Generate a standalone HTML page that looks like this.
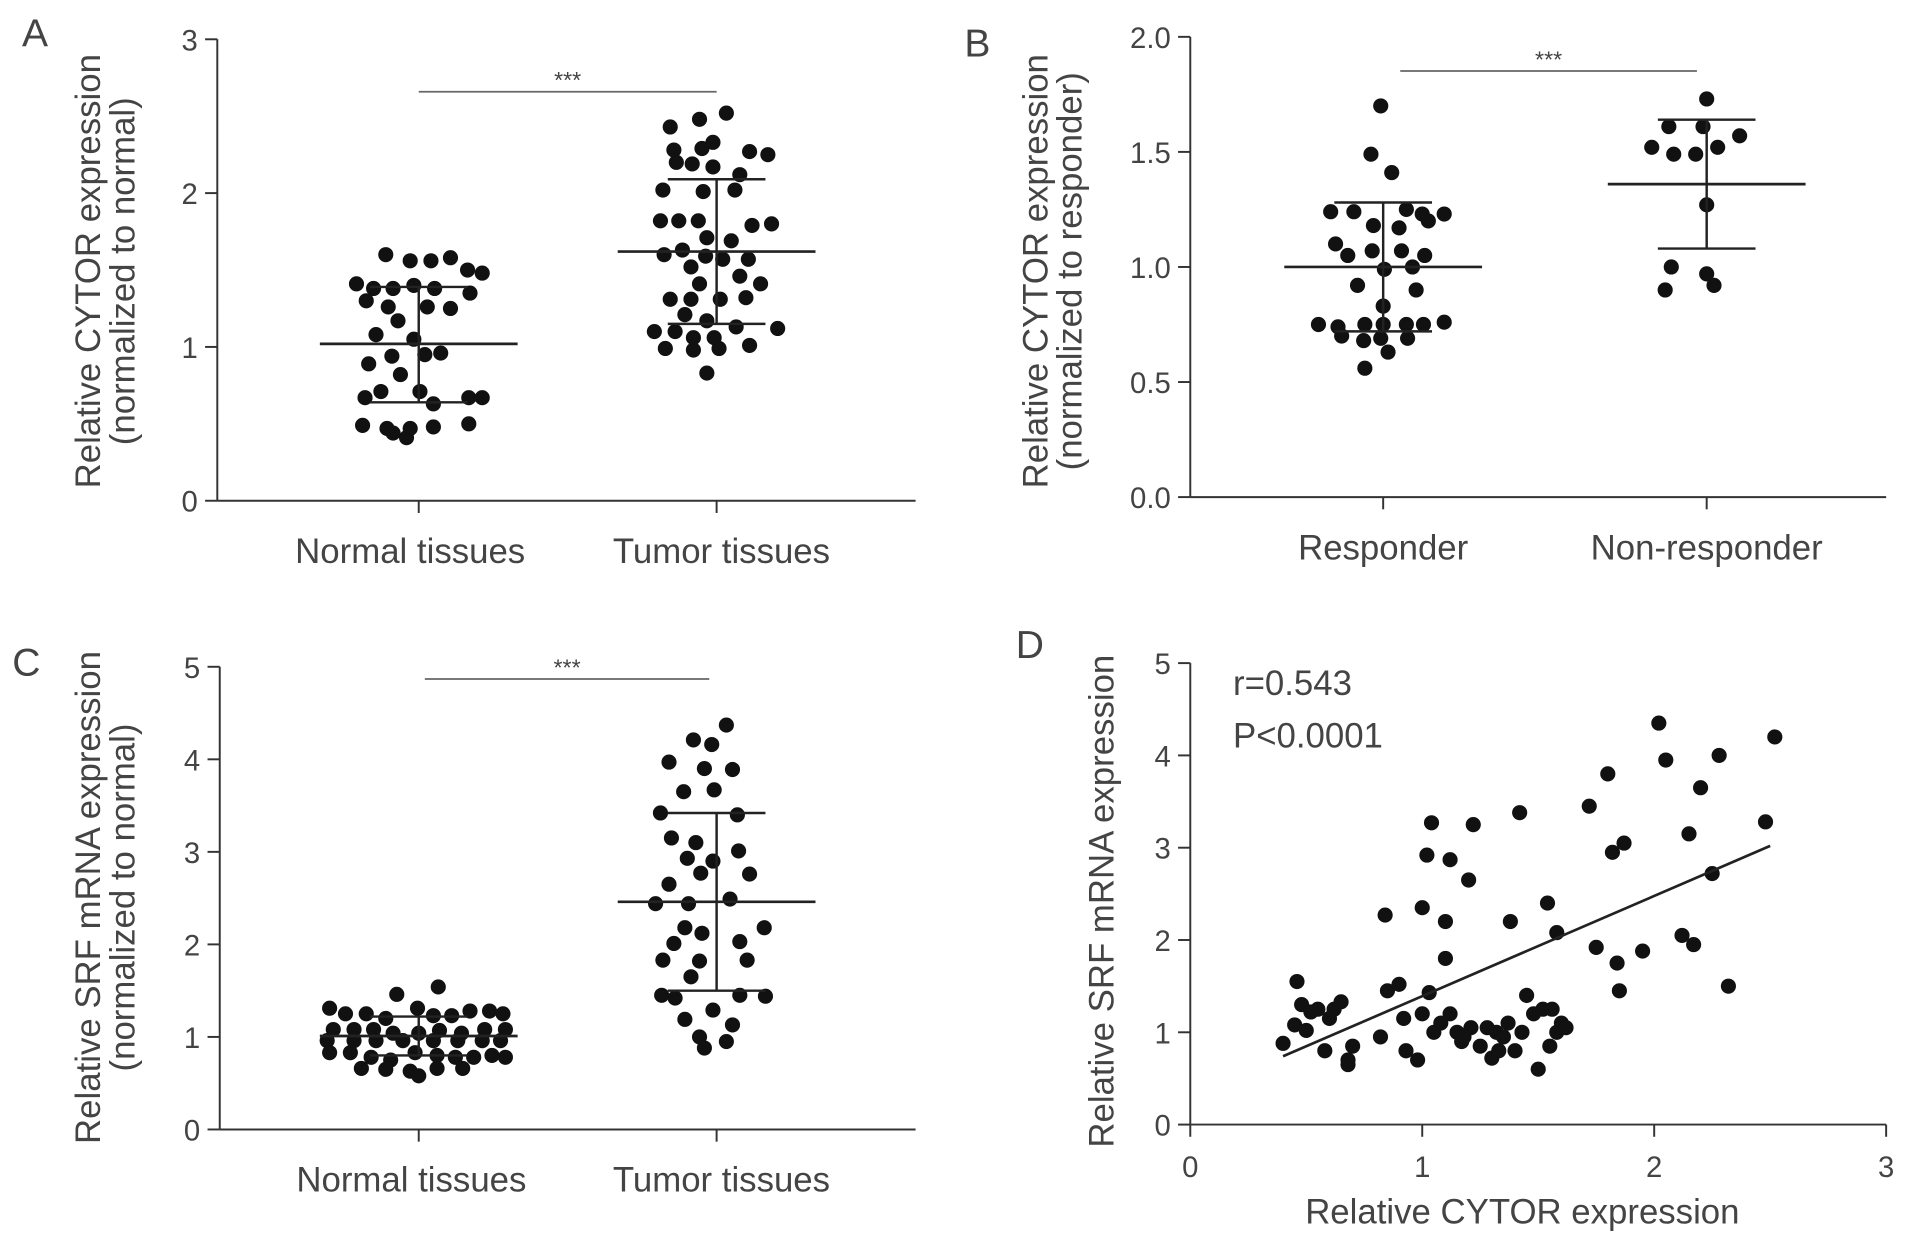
<!DOCTYPE html>
<html><head><meta charset="utf-8"><style>
html,body{margin:0;padding:0;background:#fff;width:1913px;height:1242px;overflow:hidden}
svg text{font-family:"Liberation Sans",sans-serif;fill:#444}
</style></head><body>
<svg id="fig" width="1913" height="1242" viewBox="0 0 1567 1017" xmlns="http://www.w3.org/2000/svg"></svg>
<script>
// Panel A
const aNormal=[1.60,1.56,1.56,1.58,1.41,1.38,1.38,1.40,1.38,1.50,1.48,1.30,1.26,1.26,1.25,1.35,1.17,1.05,1.08,0.94,0.95,0.96,0.82,0.89,0.71,0.71,0.67,0.67,0.67,0.63,0.49,0.47,0.47,0.48,0.50,0.41,0.44];
const aNormalJit=[-27,-7,10,26,-51,-37,-21,-4,13,40,52,-43,-25,7,26,42,-17,-4,-35,-22,5,18,-15,-41,-31,1,-44,41,52,12,-46,-26,-7,12,41,-10,-21];
const aTumor=[2.48,2.52,2.43,2.28,2.29,2.33,2.27,2.25,2.20,2.19,2.17,2.12,2.02,2.01,2.02,1.82,1.82,1.82,1.79,1.80,1.71,1.69,1.60,1.63,1.59,1.57,1.57,1.52,1.46,1.41,1.41,1.31,1.31,1.31,1.32,1.21,1.17,1.10,1.10,1.06,1.06,1.13,1.12,0.99,0.98,0.99,1.01,0.83];
const aTumorJit=[-14,8,-38,-35,-12,-3,27,42,-33,-20,-3,19,-44,-11,15,-46,-31,-15,29,45,-8,12,-43,-28,-9,5,26,-21,19,-14,36,-38,-21,3,24,-26,-8,-51,-34,-19,-2,16,50,-42,-19,2,27,-8];
const aStats=[[1.02,0.64,1.39],[1.62,1.15,2.09]];
// Panel B
const bResp=[1.70,1.49,1.41,1.24,1.24,1.25,1.23,1.23,1.18,1.17,1.20,1.10,1.05,1.07,1.07,1.05,0.99,1.00,0.92,0.90,0.83,0.75,0.74,0.75,0.75,0.75,0.75,0.76,0.70,0.68,0.69,0.69,0.56,0.63];
const bRespJit=[-2,-10,7,-43,-24,19,32,50,-8,13,37,-39,-29,-9,15,34,1,24,-21,27,0,-53,-37,-15,0,19,33,50,-34,-16,-2,20,-15,4];
const bNon=[1.73,1.61,1.61,1.57,1.52,1.49,1.49,1.52,1.27,1.00,0.97,0.92,0.90];
const bNonJit=[0,-31,-3,27,-45,-27,-9,9,0,-29,0,6,-34];
const bStats=[[1.00,0.72,1.28],[1.36,1.08,1.64]];
// Panel C
const cNormal=[1.54,1.46,1.31,1.31,1.25,1.25,1.20,1.23,1.23,1.28,1.28,1.25,1.08,1.08,1.08,1.04,1.04,1.07,1.04,1.08,1.08,0.96,0.96,0.96,0.96,0.96,0.96,0.96,0.96,0.83,0.83,0.78,0.75,0.83,0.80,0.78,0.78,0.80,0.78,0.66,0.65,0.63,0.66,0.66,0.58];
const cNormalJit=[16,-18,-1,-73,-60,-43,-27,12,27,42,58,69,-70,-53,-37,-21,0,17,35,54,71,-75,-53,-35,-13,12,32,52,67,-73,-56,-39,-23,-3,15,30,45,60,71,-47,-27,-7,15,36,0];
const cTumor=[4.37,4.21,4.16,3.97,3.90,3.89,3.65,3.67,3.42,3.40,3.15,3.10,3.01,2.93,2.90,2.65,2.77,2.76,2.44,2.44,2.49,2.18,2.18,2.12,2.01,2.03,1.83,1.82,1.83,1.65,1.45,1.42,1.45,1.44,1.29,1.19,1.13,1.00,0.95,0.88];
const cTumorJit=[8,-19,-4,-39,-10,13,-27,-2,-46,17,-37,-17,18,-24,-3,-39,-13,27,-50,-23,11,-26,39,-12,-35,19,-44,-14,25,-21,-45,-34,19,40,-3,-26,13,-14,8,-10];
const cStats=[[1.01,0.80,1.22],[2.46,1.50,3.42]];
// Panel D
const dX=[0.40,0.45,0.46,0.48,0.50,0.52,0.55,0.58,0.60,0.62,0.65,0.68,0.68,0.70,0.82,0.84,0.85,0.90,0.92,0.93,0.98,1.00,1.00,1.02,1.03,1.04,1.05,1.08,1.10,1.10,1.12,1.12,1.15,1.17,1.18,1.20,1.21,1.22,1.25,1.28,1.30,1.32,1.33,1.35,1.37,1.38,1.40,1.42,1.43,1.45,1.48,1.50,1.52,1.54,1.55,1.56,1.58,1.58,1.60,1.62,1.72,1.75,1.80,1.82,1.84,1.85,1.87,1.95,2.02,2.05,2.12,2.15,2.17,2.20,2.25,2.28,2.32,2.48,2.52];
const dY=[0.88,1.08,1.55,1.30,1.02,1.22,1.25,0.80,1.15,1.25,1.33,0.70,0.65,0.85,0.95,2.27,1.45,1.52,1.15,0.80,0.70,2.35,1.20,2.92,1.43,3.27,1.00,1.10,1.80,2.20,2.87,1.20,1.00,0.90,0.95,2.65,1.05,3.25,0.85,1.05,0.72,1.00,0.80,0.95,1.10,2.20,0.80,3.38,1.00,1.40,1.20,0.60,1.25,2.40,0.85,1.25,1.00,2.08,1.10,1.05,3.45,1.92,3.80,2.95,1.75,1.45,3.05,1.88,4.35,3.95,2.05,3.15,1.95,3.65,2.72,4.00,1.50,3.28,4.20];
const dFitX=[0.40,2.50];
const dFitY=[0.74,3.02];

const svg=document.getElementById('fig');
const NS='http://www.w3.org/2000/svg';
function el(tag,attrs,parent){const e=document.createElementNS(NS,tag);for(const k in attrs)e.setAttribute(k,attrs[k]);(parent||svg).appendChild(e);return e;}
function txt(s,x,y,size,anchor,parent,rot){const t=el('text',{x:x,y:y,'font-size':size,'text-anchor':anchor||'middle'},parent);if(rot)t.setAttribute('transform','rotate(-90 '+x+' '+y+')');t.textContent=s;return t;}
const LC='#333';
const BIG=28.5;

function yAxis(g,x0,y0,y1,vmin,vmax,ticks,fmt){
  const sy=v=>y0-(v-vmin)/(vmax-vmin)*(y0-y1);
  el('line',{x1:x0,y1:y0,x2:x0,y2:y1,stroke:LC,'stroke-width':1.6},g);
  ticks.forEach(t=>{el('line',{x1:x0-10,y1:sy(t),x2:x0,y2:sy(t),stroke:LC,'stroke-width':1.6},g);
    const l=txt(fmt(t),x0-16,sy(t)+9,24,'end',g);
    
    });
  return sy;
}

function dotPanel(name,o){
  const g=el('g',{});
  
  
  const sy=yAxis(g,o.x0,o.y0,o.y1,0,o.vmax,o.ticks,o.fmt);
  el('line',{x1:o.x0,y1:o.y0,x2:o.x2,y2:o.y0,stroke:LC,'stroke-width':1.6},g);
  o.cats.forEach((c,i)=>{
    const cx=o.cx[i];
    el('line',{x1:cx,y1:o.y0,x2:cx,y2:o.y0+10,stroke:LC,'stroke-width':1.6},g);
    const l=txt(c,o.lcx[i],o.y0+51,BIG,'middle',g);
    
    
    o.vals[i].forEach((v,j)=>{const d=el('circle',{cx:cx+o.jit[i][j],cy:sy(v),r:6.2,fill:'#111'},g);
      
      });
    const s=o.stats[i];
    el('line',{x1:cx-81,y1:sy(s[0]),x2:cx+81,y2:sy(s[0]),stroke:'#222','stroke-width':2.2},g);
    el('line',{x1:cx,y1:sy(s[1]),x2:cx,y2:sy(s[2]),stroke:'#222','stroke-width':2},g);
    el('line',{x1:cx-40,y1:sy(s[1]),x2:cx+40,y2:sy(s[1]),stroke:'#222','stroke-width':2},g);
    el('line',{x1:cx-40,y1:sy(s[2]),x2:cx+40,y2:sy(s[2]),stroke:'#222','stroke-width':2},g);
  });
  el('line',{x1:o.sig[0],y1:o.sig[2],x2:o.sig[1],y2:o.sig[2],stroke:'#666','stroke-width':1.4},g);
  txt('***',(o.sig[0]+o.sig[1])/2,o.sig[2]-3,19,'middle',g);
  o.titles.forEach((t,k)=>{const l=txt(t,o.tx[k],o.ty,BIG,'middle',g,true);
    
    });
  const L=txt(o.letter,o.lx,o.ly,32,'start',g);
  
  
}

dotPanel('panel-a',{x0:178,y0:410,y1:32,x2:750,vmax:3,ticks:[0,1,2,3],fmt:t=>String(t),cats:['Normal tissues','Tumor tissues'],cx:[343,587],lcx:[336,591],vals:[aNormal,aTumor],jit:[aNormalJit,aTumorJit],stats:aStats,sig:[343,587,75],titles:['Relative CYTOR expression','(normalized to normal)'],tx:[82,110],ty:222,letter:'A',lx:18,ly:38});
dotPanel('panel-b',{x0:975,y0:407,y1:30,x2:1545,vmax:2,ticks:[0,0.5,1,1.5,2],fmt:t=>t.toFixed(1),cats:['Responder','Non-responder'],cx:[1133,1398],lcx:[1133,1398],vals:[bResp,bNon],jit:[bRespJit,bNonJit],stats:bStats,sig:[1147,1390,58],titles:['Relative CYTOR expression','(normalized to responder)'],tx:[858,886],ty:222,letter:'B',lx:790,ly:46});
dotPanel('panel-c',{x0:180,y0:925,y1:546,x2:750,vmax:5,ticks:[0,1,2,3,4,5],fmt:t=>String(t),cats:['Normal tissues','Tumor tissues'],cx:[343,587],lcx:[337,591],vals:[cNormal,cTumor],jit:[cNormalJit,cTumorJit],stats:cStats,sig:[348,581,556],titles:['Relative SRF mRNA expression','(normalized to normal)'],tx:[82,110],ty:735,letter:'C',lx:10,ly:553});

// Panel D
(function(){
  const g=el('g',{});
  
  
  const x0=975,y0=921,x3=1545;
  const sx=v=>x0+v/3*(x3-x0);
  const sy=yAxis(g,x0,y0,543,0,5,[0,1,2,3,4,5],t=>String(t));
  el('line',{x1:x0,y1:y0,x2:x3,y2:y0,stroke:LC,'stroke-width':1.6},g);
  [0,1,2,3].forEach(t=>{el('line',{x1:sx(t),y1:y0,x2:sx(t),y2:y0+10,stroke:LC,'stroke-width':1.6},g);
    const l=txt(String(t),sx(t),y0+43,24,'middle',g);
    
    });
  dX.forEach((x,i)=>{const d=el('circle',{cx:sx(x),cy:sy(dY[i]),r:6.2,fill:'#111'},g);
    
    });
  const f=el('line',{x1:sx(dFitX[0]),y1:sy(dFitY[0]),x2:sx(dFitX[1]),y2:sy(dFitY[1]),stroke:'#222','stroke-width':2.2},g);
  
  
  const xt=txt('Relative CYTOR expression',1247,1002,BIG,'middle',g);
  
  
  const yt=txt('Relative SRF mRNA expression',912,738,BIG,'middle',g,true);
  
  
  const r=txt('r=0.543',1010,569,BIG,'start',g);
  
  
  const p=txt('P<0.0001',1010,612,BIG,'start',g);
  
  
  const L=txt('D',832,539,32,'start',g);
  
  
})();
</script>
</body></html>
